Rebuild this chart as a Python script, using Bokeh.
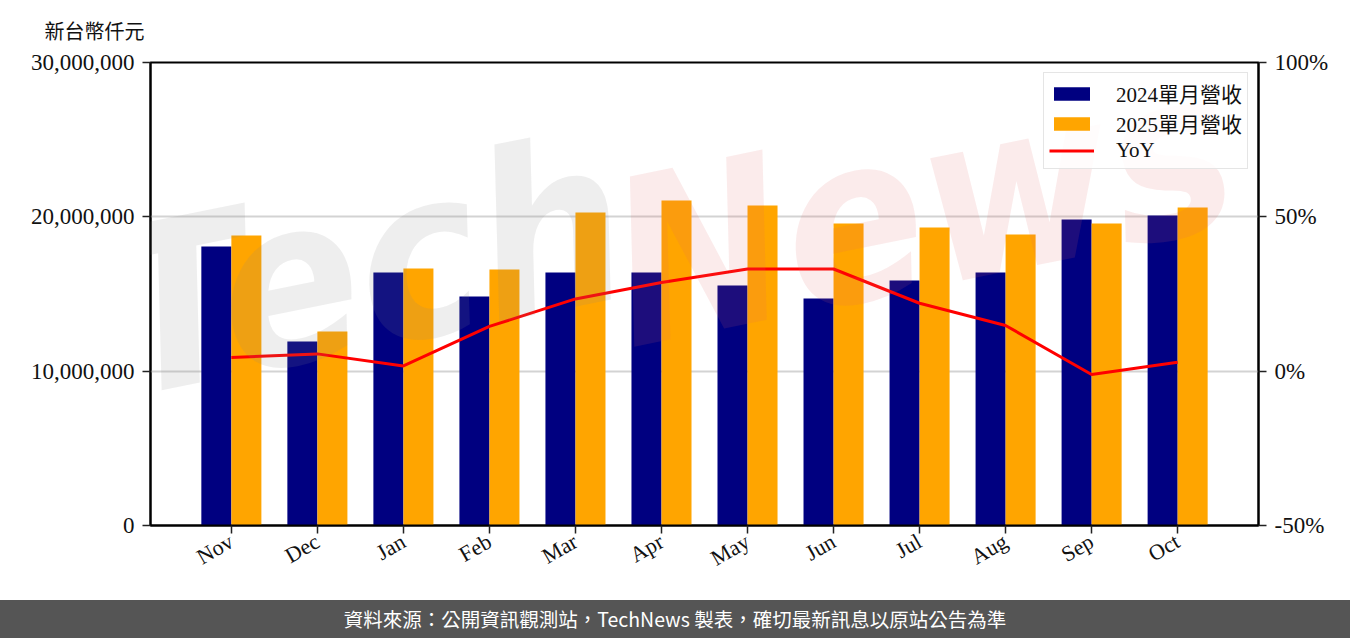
import math
from bokeh.plotting import figure
from bokeh.models import (FactorRange, Range1d, LinearAxis, FixedTicker, NumeralTickFormatter,
                          PrintfTickFormatter, Label, Div, ColumnDataSource)
from bokeh.transform import dodge
from bokeh.layouts import column
from bokeh.embed import file_html
from bokeh.resources import INLINE

# ---------------- data ----------------
months = ["Nov", "Dec", "Jan", "Feb", "Mar", "Apr", "May", "Jun", "Jul", "Aug", "Sep", "Oct"]
rev_2024 = [18080000, 11920000, 16390000, 14840000, 16390000, 16390000,
            15550000, 14710000, 15870000, 16390000, 19830000, 20090000]
rev_2025 = [18790000, 12570000, 16650000, 16590000, 20280000, 21060000,
            20730000, 19570000, 19310000, 18860000, 19570000, 20610000]
yoy_pct = [4.4, 5.6, 1.7, 14.5, 23.4, 28.7, 33.1, 33.1, 22.0, 14.8, -1.1, 2.9]
left_ticks = [0, 10000000, 20000000, 30000000]
right_ticks = [-50, 0, 50, 100]
unit_label = "新台幣仟元"
series_names = ["2024單月營收", "2025單月營收", "YoY"]
source_note = "資料來源：公開資訊觀測站，TechNews 製表，確切最新訊息以原站公告為準"

SERIF = "Liberation Serif, Noto Sans CJK TC"

src = ColumnDataSource(dict(month=months, r24=rev_2024, r25=rev_2025, yoy=yoy_pct))

p = figure(x_range=FactorRange(factors=months, range_padding=0.44, range_padding_units="absolute"),
           y_range=Range1d(0, 30000000), width=1350, height=600,
           min_border_left=150, min_border_right=92, min_border_top=62, min_border_bottom=75,
           output_backend="svg", toolbar_location=None)
p.extra_y_ranges = {"yoy": Range1d(-50, 100)}

p.vbar(x=dodge("month", -0.1745, range=p.x_range), top="r24", width=0.349, source=src,
       fill_color="#000080", line_color=None, legend_label=series_names[0])
p.vbar(x=dodge("month", 0.1745, range=p.x_range), top="r25", width=0.349, source=src,
       fill_color="#FFA500", line_color=None, legend_label=series_names[1])
p.line(x="month", y="yoy", source=src, y_range_name="yoy", line_color="#FF0000",
       line_width=3, legend_label=series_names[2])

# right axis
rax = LinearAxis(y_range_name="yoy", ticker=FixedTicker(ticks=right_ticks),
                 formatter=PrintfTickFormatter(format="%d%%"))
p.add_layout(rax, "right")

p.yaxis[0].ticker = FixedTicker(ticks=left_ticks)
p.yaxis[0].formatter = NumeralTickFormatter(format="0,0")

for ax in p.axis:
    ax.axis_line_color = "black"
    ax.axis_line_width = 2
    ax.major_tick_out = 8
    ax.major_tick_in = 0
    ax.major_tick_line_width = 1.5
    ax.major_tick_line_color = "#222222"
    ax.minor_tick_line_color = None
    ax.major_label_text_font = SERIF
    ax.major_label_text_font_size = "23px"
    ax.major_label_text_color = "#111111"
    ax.major_label_standoff = 8

p.xaxis.major_label_orientation = math.pi / 6
p.xaxis.major_label_text_font_size = "22px"
p.xaxis.major_label_standoff = 6

p.outline_line_color = "black"
p.outline_line_width = 2
p.xgrid.visible = False
p.ygrid.ticker = FixedTicker(ticks=left_ticks)
p.ygrid.grid_line_color = "#d3d3d3"
p.ygrid.grid_line_width = 2

# unit title
p.title.text = unit_label
p.title.align = "left"
p.title.offset = -106
p.title.vertical_align = "top"
p.title.text_font = SERIF
p.title.text_font_size = "20px"
p.title.text_font_style = "normal"
p.title.text_color = "#111111"
p.title.standoff = 36

# watermark
wm1 = Label(x=-0.6, y=4860000, text="Tech", angle=0.2, text_font="DejaVu Sans Condensed",
            text_font_style="bold italic", text_font_size="230px", text_color="#888888",
            text_alpha=0.14, level="overlay")
wm2 = Label(x=5.26, y=8100000, text="News", angle=0.2, text_font="DejaVu Sans Condensed",
            text_font_style="bold italic", text_font_size="230px", text_color="#dd6666",
            text_alpha=0.13, level="overlay")
p.add_layout(wm1)
p.add_layout(wm2)

# legend
lg = p.legend[0]
lg.location = "top_right"
lg.label_text_font = SERIF
lg.label_text_font_size = "21px"
lg.label_text_color = "#111111"
lg.label_height = 24
lg.glyph_width = 45
lg.glyph_height = 17
lg.label_standoff = 22
lg.spacing = 0
lg.padding = 5
lg.margin = 10
lg.border_line_color = "#cccccc"
lg.border_line_width = 1.5
lg.background_fill_alpha = 0.85

footer = Div(text=source_note, width=1350, height=38, margin=0,
             styles={"background-color": "#555555", "color": "white", "text-align": "center",
                     "font-size": "19.5px", "line-height": "38px",
                     "font-family": "Noto Sans CJK TC", "width": "1350px", "height": "38px"})

layout = column(p, footer, spacing=0)
open("out.html", "w").write(file_html(layout, INLINE, title="chart"))
